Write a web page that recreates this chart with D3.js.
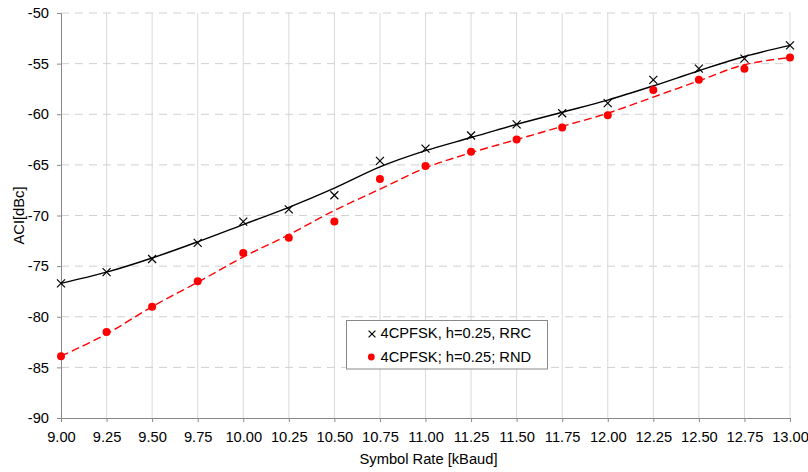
<!DOCTYPE html>
<html>
<head>
<meta charset="utf-8">
<script src="https://cdn.jsdelivr.net/npm/d3@7"></script>
<style>
  html, body { margin: 0; padding: 0; background: #fff; }
  svg { display: block; font-family: "Liberation Sans", Arial, sans-serif; }
</style>
</head>
<body>
<svg id="chart" width="808" height="472"></svg>
<script>
// Symbol rates (kBaud)
const symbolRates = [9.00, 9.25, 9.50, 9.75, 10.00, 10.25, 10.50, 10.75, 11.00, 11.25, 11.50, 11.75, 12.00, 12.25, 12.50, 12.75, 13.00];
// Measured ACI (dBc)
const rrcPoints = [-76.7, -75.6, -74.3, -72.7, -70.6, -69.4, -68.0, -64.6, -63.4, -62.1, -61.0, -59.9, -58.9, -56.6, -55.5, -54.5, -53.2];
const rndPoints = [-83.9, -81.5, -79.0, -76.5, -73.7, -72.2, -70.6, -66.4, -65.1, -63.7, -62.5, -61.3, -60.1, -57.6, -56.6, -55.5, -54.4];
// Smoothed trend curves
const rrcCurve = [-76.7, -75.6, -74.2, -72.6, -70.9, -69.2, -67.3, -65.2, -63.6, -62.3, -61.0, -59.8, -58.6, -57.2, -55.7, -54.3, -53.2];
const rndCurve = [-83.9, -81.7, -79.0, -76.6, -74.1, -71.9, -69.5, -67.4, -65.3, -63.8, -62.5, -61.2, -59.9, -58.3, -56.7, -55.1, -54.4];
// Axis ticks
const xTicks = [9.00, 9.25, 9.50, 9.75, 10.00, 10.25, 10.50, 10.75, 11.00, 11.25, 11.50, 11.75, 12.00, 12.25, 12.50, 12.75, 13.00];
const yTicks = [-50, -55, -60, -65, -70, -75, -80, -85, -90];
const seriesNames = ["4CPFSK, h=0.25, RRC", "4CPFSK; h=0.25; RND"];

const FONT = "14.7px";
const svg = d3.select("#chart");
const plot = { left: 61, right: 790, top: 13, bottom: 418 };

const x = d3.scaleLinear().domain([9, 13]).range([plot.left, plot.right]);
const y = d3.scaleLinear().domain([-90, -50]).range([plot.bottom, plot.top]);

// Grid: solid verticals, dashed horizontals
svg.append("g").selectAll("line").data(xTicks.slice(1)).join("line")
  .attr("x1", d => x(d)).attr("x2", d => x(d))
  .attr("y1", plot.top).attr("y2", plot.bottom)
  .attr("stroke", "#d9d9d9").attr("stroke-width", 1);
svg.append("g").selectAll("line").data(yTicks.filter(d => d !== -90)).join("line")
  .attr("x1", plot.left).attr("x2", plot.right)
  .attr("y1", d => y(d)).attr("y2", d => y(d))
  .attr("stroke", "#d0d0d0").attr("stroke-width", 1)
  .attr("stroke-dasharray", "8,6");

// Axes
const xAxis = d3.axisBottom(x).tickValues(xTicks).tickFormat(d3.format(".2f")).tickSizeOuter(0).tickSize(4).tickPadding(10);
const yAxis = d3.axisLeft(y).tickValues(yTicks).tickFormat(d => d).tickSizeOuter(0).tickSize(4).tickPadding(8);

const gx = svg.append("g").attr("transform", `translate(0,${plot.bottom})`).call(xAxis);
const gy = svg.append("g").attr("transform", `translate(${plot.left},0)`).call(yAxis);
[gx, gy].forEach(g => {
  g.select(".domain").attr("stroke", "#888");
  g.selectAll(".tick line").attr("stroke", "#888");
  g.selectAll(".tick text").attr("fill", "#000").style("font-size", FONT)
    .style("font-family", "'Liberation Sans', Arial, sans-serif");
});

// Axis titles
svg.append("text").attr("x", 428.5).attr("y", 464)
  .attr("text-anchor", "middle").style("font-size", FONT).text("Symbol Rate [kBaud]");
svg.append("text").attr("transform", `translate(23.5,${(plot.top + plot.bottom) / 2}) rotate(-90)`)
  .attr("text-anchor", "middle").style("font-size", FONT).text("ACI[dBc]");

// Trend curves
const line = d3.line().x(d => x(d[0])).y(d => y(d[1])).curve(d3.curveCatmullRom.alpha(0.5));
svg.append("path").datum(d3.zip(symbolRates, rrcCurve))
  .attr("d", line).attr("fill", "none").attr("stroke", "#000").attr("stroke-width", 1.4);
svg.append("path").datum(d3.zip(symbolRates, rndCurve))
  .attr("d", line).attr("fill", "none").attr("stroke", "#ff0000").attr("stroke-width", 1.4)
  .attr("stroke-dasharray", "8,4");

// Markers
const cross = (g, cx, cy, s) => {
  g.append("path")
    .attr("d", `M${cx - s},${cy - s}L${cx + s},${cy + s}M${cx - s},${cy + s}L${cx + s},${cy - s}`)
    .attr("stroke", "#000").attr("stroke-width", 1.2).attr("fill", "none");
};
const gm = svg.append("g");
d3.zip(symbolRates, rrcPoints).forEach(([a, b]) => cross(gm, x(a), y(b), 4));
svg.append("g").selectAll("circle").data(d3.zip(symbolRates, rndPoints)).join("circle")
  .attr("cx", d => x(d[0])).attr("cy", d => y(d[1])).attr("r", 4)
  .attr("fill", "#ff0000");

// Legend
const lg = svg.append("g");
lg.append("rect").attr("x", 346.5).attr("y", 320.5).attr("width", 201).attr("height", 48.5)
  .attr("fill", "#fff").attr("stroke", "#888").attr("stroke-width", 1);
cross(lg, 372, 334, 3.4);
lg.append("circle").attr("cx", 371.3).attr("cy", 357).attr("r", 3.4).attr("fill", "#ff0000");
lg.selectAll("text").data(seriesNames).join("text")
  .attr("x", 380.5).attr("y", (d, i) => 337.7 + i * 24)
  .style("font-size", FONT).text(d => d);
</script>
</body>
</html>
